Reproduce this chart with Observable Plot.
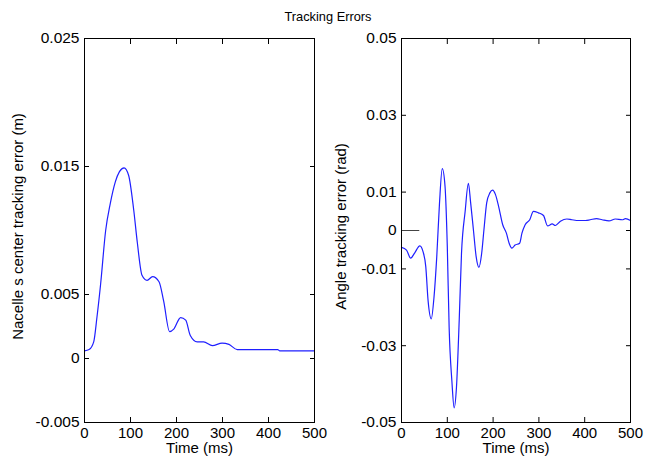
<!DOCTYPE html>
<html>
<head>
<meta charset="utf-8">
<script src="https://cdn.jsdelivr.net/npm/d3@7"></script>
<script src="https://cdn.jsdelivr.net/npm/@observablehq/plot@0.6"></script>
<style>
  html, body { margin: 0; padding: 0; background: #fff; }
  #wrap { position: relative; width: 654px; height: 457px; background: #fff; font-family: "Liberation Sans", Arial, sans-serif; }
  #title { position: absolute; left: 0; width: 656px; top: 9px; text-align: center; font-size: 12.8px; color: #000; }
  #left, #right { position: absolute; top: 0; }
  #left { left: 0; }
  #right { left: 327px; }
</style>
</head>
<body>
<div id="wrap">
  <div id="left"></div>
  <div id="right"></div>
  <div id="title">Tracking Errors</div>
</div>
<script>
// ---- data ----
const titleText = "Tracking Errors";
const xLabel = "Time (ms)";
const leftYLabel = "Nacelle s center tracking error (m)";
const rightYLabel = "Angle tracking error (rad)";

const xTicks = [0, 100, 200, 300, 400, 500];
const leftYTicks = [-0.005, 0, 0.005, 0.015, 0.025];
const leftYTickLabels = ["-0.005", "0", "0.005", "0.015", "0.025"];
const rightYTicks = [-0.05, -0.03, -0.01, 0, 0.01, 0.03, 0.05];
const rightYTickLabels = ["-0.05", "-0.03", "-0.01", "0", "0.01", "0.03", "0.05"];

const leftTime = [0, 10, 20, 27, 35, 46, 56, 67, 76, 86, 96, 107, 115, 125, 136, 148, 162, 172, 185, 194, 209, 220, 230, 245, 259, 278, 299, 314, 332, 420, 424, 500];
const leftError = [0.0006, 0.0007, 0.0013, 0.0032, 0.0058, 0.0100, 0.0121, 0.0138, 0.0146, 0.0149, 0.0143, 0.0116, 0.0090, 0.0065, 0.0061, 0.0064, 0.0060, 0.0045, 0.0021, 0.0023, 0.0032, 0.0030, 0.0018, 0.0013, 0.0013, 0.0010, 0.0012, 0.0011, 0.0007, 0.0007, 0.0006, 0.0006];

const rightTime = [0, 11, 20, 29, 40, 47, 53, 58, 65, 71, 77, 83, 89, 95, 100, 104, 110, 115, 120, 126, 131, 139, 146, 151, 157, 163, 169, 175, 180, 186, 193, 199, 205, 212, 221, 229, 235, 241, 248, 258, 263, 270, 280, 288, 299, 310, 319, 329, 336, 347, 361, 372, 387, 402, 412, 426, 438, 453, 467, 482, 489, 500];
const rightError = [-0.0044, -0.0051, -0.0072, -0.0058, -0.0040, -0.0055, -0.0094, -0.0182, -0.0230, -0.0173, -0.0068, 0.0072, 0.0161, 0.0116, -0.0042, -0.0252, -0.0392, -0.0462, -0.0409, -0.0234, -0.0060, 0.0050, 0.0123, 0.0072, 0.0002, -0.0068, -0.0096, -0.0060, 0.0002, 0.0072, 0.0098, 0.0105, 0.0094, 0.0063, 0.0015, -0.0007, -0.0033, -0.0046, -0.0038, -0.0033, -0.0007, 0.0015, 0.0028, 0.0050, 0.0046, 0.0039, 0.0012, 0.0017, 0.0013, 0.0024, 0.0030, 0.0028, 0.0026, 0.0026, 0.0028, 0.0031, 0.0028, 0.0025, 0.0030, 0.0028, 0.0031, 0.0026];

// short reference segment at zero (right panel)
const refTime = [0, 38];
const refValue = [0, 0];

// ---- build ----
const leftData = leftTime.map((t, i) => ({t, v: leftError[i]}));
const rightData = rightTime.map((t, i) => ({t, v: rightError[i]}));
const refData = refTime.map((t, i) => ({t, v: refValue[i]}));

const font = "'Liberation Sans', Arial, sans-serif";
const lineColor = "#1f1fff";

function panel({width, marginLeft, marginRight, yDomain, yTicks, yTickLabels, yLabel, yLabelDx, data, extra}) {
  const fmt = d => {
    const i = yTicks.findIndex(v => Math.abs(v - d) < 1e-9);
    return i >= 0 ? yTickLabels[i] : "";
  };
  return Plot.plot({
    width, height: 457,
    marginLeft, marginRight, marginTop: 38, marginBottom: 35,
    style: {fontFamily: font, fontSize: "15px", color: "#000", background: "transparent", overflow: "visible"},
    x: {domain: [0, 500]},
    y: {domain: yDomain},
    marks: [
      // labels
      Plot.axisX(xTicks, {anchor: "bottom", tickSize: 0, tickPadding: 5, tickFormat: d => String(d), label: null, fontSize: 15}),
      Plot.axisY(yTicks, {anchor: "left", tickSize: 0, tickPadding: 5, tickFormat: fmt, label: null, fontSize: 15.5}),
      // inward ticks on all four sides
      Plot.axisX(xTicks, {anchor: "bottom", tickSize: -5, tickFormat: () => "", label: null}),
      Plot.axisX(xTicks, {anchor: "top", tickSize: -5, tickFormat: () => "", label: null}),
      Plot.axisY(yTicks, {anchor: "left", tickSize: -5, tickFormat: () => "", label: null}),
      Plot.axisY(yTicks, {anchor: "right", tickSize: -5, tickFormat: () => "", label: null}),
      ...(extra || []),
      Plot.line(data, {x: "t", y: "v", stroke: lineColor, strokeWidth: 1.2, curve: "monotone-x"}),
      Plot.frame({stroke: "#000", strokeWidth: 1}),
      Plot.text([xLabel], {frameAnchor: "bottom", dy: 26, lineAnchor: "middle", textAnchor: "middle", text: d => d, fontSize: 15, fill: "#000"}),
      Plot.text([yLabel], {frameAnchor: "left", dx: yLabelDx, dy: -4, lineAnchor: "middle", textAnchor: "middle", rotate: -90, text: d => d, fontSize: 15, fill: "#000"})
    ]
  });
}

document.getElementById("left").append(panel({
  width: 327, marginLeft: 84, marginRight: 13,
  yDomain: [-0.005, 0.025], yTicks: leftYTicks, yTickLabels: leftYTickLabels,
  yLabel: leftYLabel, yLabelDx: -66, data: leftData
}));

document.getElementById("right").append(panel({
  width: 327, marginLeft: 74, marginRight: 24,
  yDomain: [-0.05, 0.05], yTicks: rightYTicks, yTickLabels: rightYTickLabels,
  yLabel: rightYLabel, yLabelDx: -60, data: rightData,
  extra: [Plot.line(refData, {x: "t", y: "v", stroke: "#444", strokeWidth: 1})]
}));
</script>
</body>
</html>
